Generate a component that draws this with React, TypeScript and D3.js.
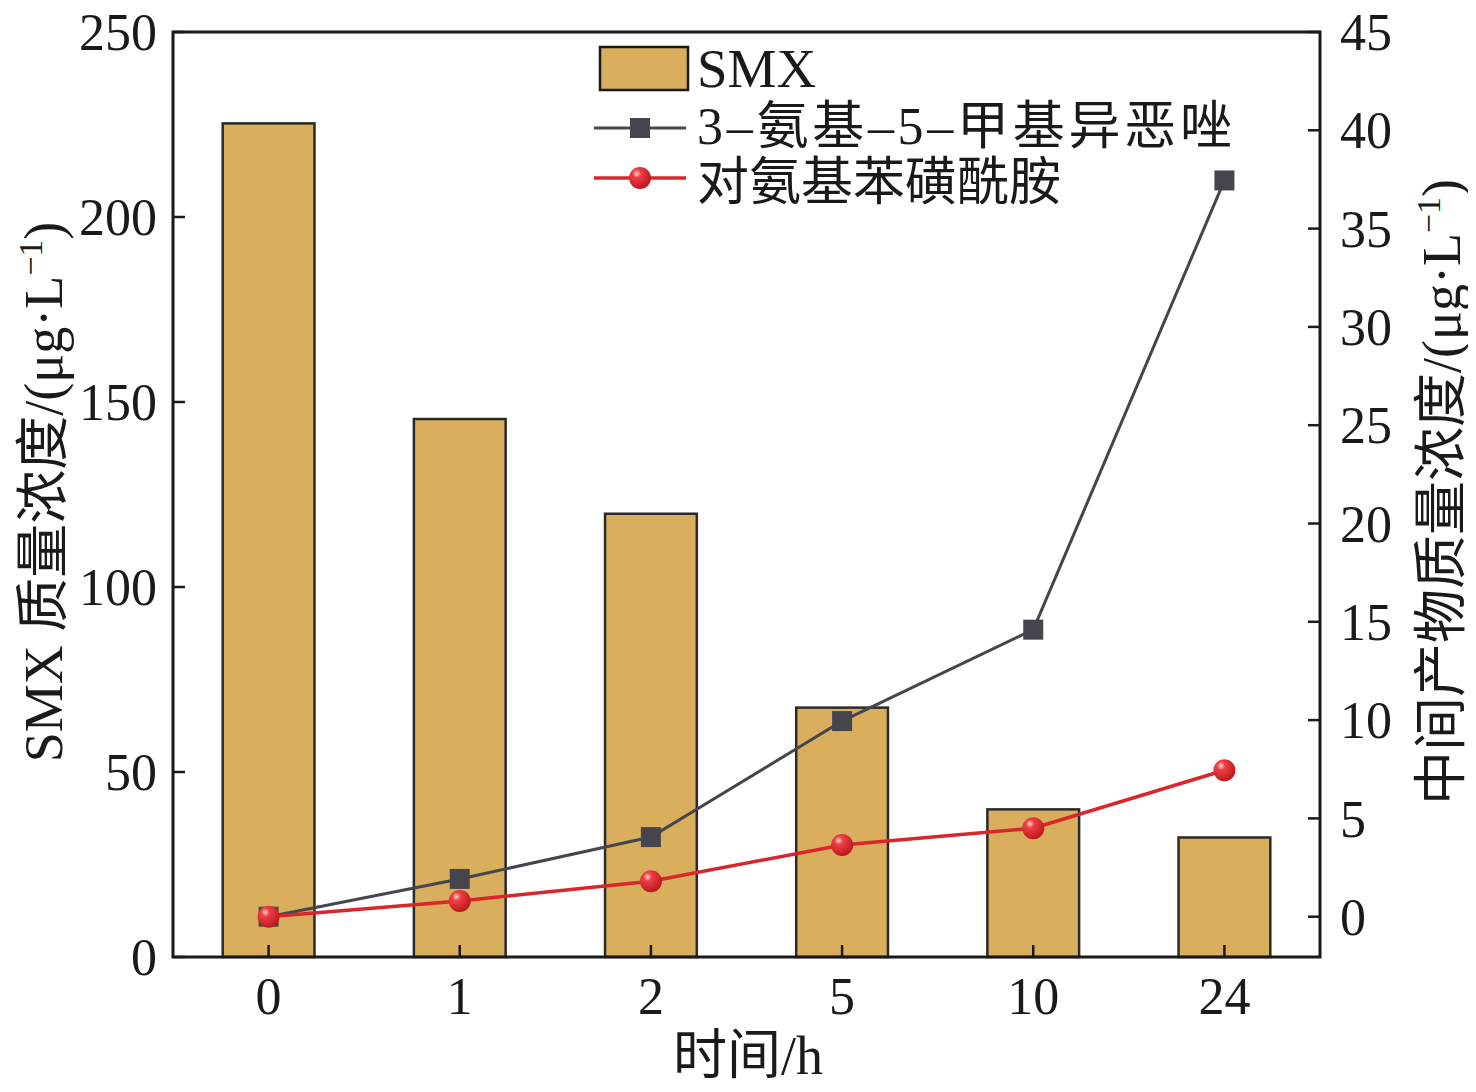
import * as d3 from 'd3';

const W = 1476;
const H = 1092;
const [mt, mr, mb, ml] = [32, 156, 135, 173];

const times = ['0', '1', '2', '5', '10', '24'];
const smx = [225.3, 145.4, 119.8, 67.4, 39.9, 32.3];
const isoxazole = [0, 1.92, 4.05, 9.95, 14.6, 37.45];
const sulfanilamide = [0, 0.8, 1.8, 3.65, 4.5, 7.45];
const leftTicks = [0, 50, 100, 150, 200, 250];
const rightTicks = [0, 5, 10, 15, 20, 25, 30, 35, 40, 45];

const FONT = '"Liberation Serif", "Times New Roman", "Noto Sans CJK SC", serif';
const barFill = '#d9ae5c';
const grey = '#45464d';
const red = '#d9262b';

export default function App() {
    const x = d3
        .scaleBand<string>()
        .domain(times)
        .range([ml, W - mr])
        .paddingInner(0.52)
        .paddingOuter(0.26);
    const yL = d3.scaleLinear().domain([0, 250]).range([H - mb, mt]);
    const yR = d3.scaleLinear().domain([-2.05, 45]).range([H - mb, mt]);
    const cx = (t: string) => (x(t) ?? 0) + x.bandwidth() / 2;

    const lineGen = d3
        .line<number>()
        .x((_, i) => cx(times[i]))
        .y((d) => yR(d));

    const tick = 12;
    const left = ml;
    const right = W - mr;
    const bottom = H - mb;
    const tickFont = 52;
    const titleFont = 54;

    return (
        <svg width={W} height={H} style={{ display: 'block', margin: '-8px' }} fontFamily={FONT}>
            <defs>
                <radialGradient id="ball" cx="0.35" cy="0.3" r="0.75">
                    <stop offset="0" stopColor="#ffd6d6" />
                    <stop offset="0.25" stopColor="#ee4045" />
                    <stop offset="1" stopColor="#b8141a" />
                </radialGradient>
            </defs>
            <rect width={W} height={H} fill="#fff" />

            {/* bars */}
            {smx.map((v, i) => (
                <rect
                    key={times[i]}
                    x={x(times[i])}
                    y={yL(v)}
                    width={x.bandwidth()}
                    height={yL(0) - yL(v)}
                    fill={barFill}
                    stroke="#2a2a2a"
                    strokeWidth={2.5}
                />
            ))}

            {/* lines */}
            <path d={lineGen(isoxazole) ?? ''} fill="none" stroke={grey} strokeWidth={3} />
            <path d={lineGen(sulfanilamide) ?? ''} fill="none" stroke={red} strokeWidth={3.5} />
            {isoxazole.map((v, i) => (
                <rect key={'s' + i} x={cx(times[i]) - 10} y={yR(v) - 10} width={20} height={20} fill={grey} />
            ))}
            {sulfanilamide.map((v, i) => (
                <circle key={'c' + i} cx={cx(times[i])} cy={yR(v)} r={11} fill="url(#ball)" />
            ))}

            {/* frame */}
            <rect x={left} y={mt} width={right - left} height={bottom - mt} fill="none" stroke="#1a1a1a" strokeWidth={3} />

            {/* bottom axis */}
            {times.map((t) => (
                <g key={'xt' + t}>
                    <line x1={cx(t)} x2={cx(t)} y1={bottom} y2={bottom - tick} stroke="#1a1a1a" strokeWidth={2.5} />
                    <text x={cx(t)} y={bottom + 57} textAnchor="middle" fontSize={tickFont} fill="#1a1a1a">
                        {t}
                    </text>
                </g>
            ))}

            {/* left axis */}
            {leftTicks.map((v) => (
                <g key={'yl' + v}>
                    <line x1={left} x2={left + tick} y1={yL(v)} y2={yL(v)} stroke="#1a1a1a" strokeWidth={2.5} />
                    <text x={left - 16} y={yL(v)} dy="0.35em" textAnchor="end" fontSize={tickFont} fill="#1a1a1a">
                        {v}
                    </text>
                </g>
            ))}

            {/* right axis */}
            {rightTicks.map((v) => (
                <g key={'yr' + v}>
                    <line x1={right} x2={right - tick} y1={yR(v)} y2={yR(v)} stroke="#1a1a1a" strokeWidth={2.5} />
                    <text x={right + 20} y={yR(v)} dy="0.35em" textAnchor="start" fontSize={tickFont} fill="#1a1a1a">
                        {v}
                    </text>
                </g>
            ))}

            {/* axis titles */}
            <text x={748} y={1074} textAnchor="middle" fontSize={titleFont} fill="#1a1a1a">
                时间/h
            </text>
            <text
                transform={`translate(62, 492) rotate(-90)`}
                textAnchor="middle"
                fontSize={titleFont}
                fill="#1a1a1a"
            >
                SMX 质量浓度/(μg·L<tspan dy="-20" fontSize={34}>−1</tspan>
                <tspan dy="20">)</tspan>
            </text>
            <text
                transform={`translate(1460, 492) rotate(-90)`}
                textAnchor="middle"
                fontSize={titleFont}
                fill="#1a1a1a"
            >
                中间产物质量浓度/(μg·L<tspan dy="-20" fontSize={34}>−1</tspan>
                <tspan dy="20">)</tspan>
            </text>

            {/* legend */}
            <g fill="#1a1a1a">
                <rect x={600} y={47} width={88} height={43} fill={barFill} stroke="#1a1a1a" strokeWidth={2.5} />
                <text x={697} y={87} fontSize={55}>SMX</text>

                <line x1={594} x2={686} y1={128} y2={128} stroke={grey} strokeWidth={3} />
                <rect x={630} y={118} width={20} height={20} fill={grey} />
                <text x={697} y={144} fontSize={52} textLength={535} lengthAdjust="spacing">
                    3–氨基–5–甲基异恶唑
                </text>

                <line x1={594} x2={686} y1={178} y2={178} stroke={red} strokeWidth={3.5} />
                <circle cx={640} cy={178} r={11} fill="url(#ball)" />
                <text x={697} y={200} fontSize={52}>对氨基苯磺酰胺</text>
            </g>
        </svg>
    );
}
